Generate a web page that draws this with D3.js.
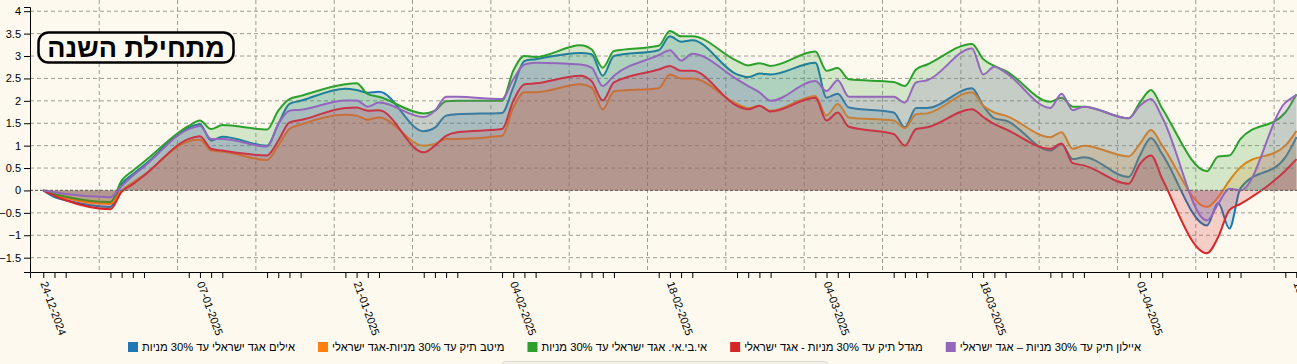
<!DOCTYPE html>
<html>
<head>
<meta charset="utf-8">
<script src="https://cdn.jsdelivr.net/npm/d3@7"></script>
<style>
  html, body { margin: 0; padding: 0; background: #fdf9ef; }
  svg { display: block; }
</style>
</head>
<body>
<svg id="chart" width="1297" height="364"></svg>
<script>
// ---------- DATA ----------
const dates = [
  "2024-12-24","2024-12-25","2024-12-26",
  "2024-12-30","2024-12-31","2025-01-01","2025-01-02",
  "2025-01-06","2025-01-07","2025-01-08","2025-01-09",
  "2025-01-13","2025-01-14","2025-01-15","2025-01-16",
  "2025-01-20","2025-01-21","2025-01-22","2025-01-23",
  "2025-01-27","2025-01-28","2025-01-29","2025-01-30",
  "2025-02-03","2025-02-04","2025-02-05","2025-02-06",
  "2025-02-10","2025-02-11","2025-02-12","2025-02-13",
  "2025-02-17","2025-02-18","2025-02-19","2025-02-20",
  "2025-02-24","2025-02-25","2025-02-26","2025-02-27",
  "2025-03-03","2025-03-04","2025-03-05","2025-03-06",
  "2025-03-10","2025-03-11","2025-03-12","2025-03-13",
  "2025-03-17","2025-03-18","2025-03-19","2025-03-20",
  "2025-03-24","2025-03-25","2025-03-26","2025-03-27",
  "2025-03-31","2025-04-01","2025-04-02","2025-04-03",
  "2025-04-07","2025-04-08","2025-04-09","2025-04-10",
  "2025-04-14","2025-04-15"
];

const seriesNames = [
  "אילים אגד ישראלי עד 30% מניות",
  "מיטב תיק עד 30% מניות-אגד ישראלי",
  "אי.בי.אי. אגד ישראלי עד 30% מניות",
  "מגדל תיק עד 30% מניות - אגד ישראלי",
  "איילון תיק עד 30% מניות – אגד ישראלי"
];

const seriesColors = ["#1f77b4", "#ff7f0e", "#2ca02c", "#d62728", "#9467bd"];

const elimValues = [
  0, -0.15, -0.22, -0.37, 0.14, 0.36, 0.56, 1.40, 1.48, 1.11, 1.20,
  1.00, 1.48, 1.93, 2.00, 2.27, 2.24, 2.18, 2.20, 1.32, 1.40, 1.67, 1.70,
  1.73, 2.30, 2.89, 2.93, 3.07, 3.04, 2.56, 3.00, 3.13, 3.44, 3.32, 3.35,
  2.59, 2.53, 2.61, 2.59, 2.85, 2.07, 2.16, 1.85, 1.74, 1.41, 1.84, 1.84,
  2.28, 1.89, 1.61, 1.56, 0.89, 1.04, 0.70, 0.74, 0.30, 0.78, 1.17, 0.81,
  -0.78, -0.28, -0.85, 0.05, 0.74, 1.19
];

const meitavValues = [
  0, -0.10, -0.17, -0.30, 0.00, 0.18, 0.35, 1.10, 1.13, 0.89, 0.87,
  0.68, 1.00, 1.37, 1.47, 1.69, 1.67, 1.58, 1.63, 1.00, 1.04, 1.15, 1.15,
  1.22, 1.85, 2.19, 2.19, 2.37, 2.30, 1.81, 2.21, 2.28, 2.59, 2.50, 2.50,
  1.93, 1.84, 1.89, 1.78, 2.11, 1.67, 1.93, 1.63, 1.56, 1.39, 1.70, 1.72,
  2.19, 1.89, 1.74, 1.67, 1.19, 1.30, 0.93, 1.00, 0.76, 1.04, 1.35, 1.00,
  -0.37, -0.15, 0.22, 0.52, 1.00, 1.33
];

const ibiValues = [
  0, -0.08, -0.14, -0.26, 0.22, 0.44, 0.64, 1.44, 1.56, 1.37, 1.46,
  1.36, 1.78, 2.04, 2.11, 2.37, 2.39, 2.15, 2.09, 1.72, 1.78, 1.99, 2.00,
  2.00, 2.67, 3.00, 2.98, 3.24, 3.15, 2.74, 3.11, 3.23, 3.56, 3.44, 3.44,
  2.89, 2.79, 2.84, 2.78, 3.10, 2.67, 2.73, 2.48, 2.42, 2.33, 2.70, 2.81,
  3.27, 2.93, 2.78, 2.67, 1.98, 2.07, 1.87, 1.87, 1.61, 1.96, 2.24, 1.83,
  0.43, 0.76, 0.78, 1.15, 1.74, 2.15
];

const migdalValues = [
  0, -0.12, -0.22, -0.42, -0.03, 0.14, 0.33, 1.15, 1.21, 0.93, 0.89,
  0.78, 1.11, 1.52, 1.57, 1.84, 1.85, 1.78, 1.79, 0.85, 1.00, 1.22, 1.30,
  1.37, 2.00, 2.37, 2.39, 2.56, 2.44, 2.01, 2.41, 2.70, 2.78, 2.67, 2.67,
  1.89, 1.81, 1.89, 1.76, 2.07, 1.56, 1.74, 1.42, 1.26, 1.00, 1.37, 1.41,
  1.81, 1.64, 1.48, 1.37, 0.93, 1.05, 0.61, 0.56, 0.15, 0.59, 0.78, 0.26,
  -1.40, -1.04, -0.44, -0.30, 0.44, 0.70
];

const ayalonValues = [
  0, -0.04, -0.08, -0.15, 0.10, 0.33, 0.53, 1.37, 1.44, 1.15, 1.15,
  0.98, 1.48, 1.78, 1.80, 2.01, 2.01, 1.87, 1.96, 1.64, 1.78, 2.09, 2.09,
  2.04, 2.48, 2.81, 2.85, 2.81, 2.74, 2.33, 2.56, 3.02, 3.13, 2.90, 3.05,
  2.48, 2.33, 2.19, 2.00, 2.44, 2.22, 2.46, 2.09, 2.09, 1.96, 2.41, 2.46,
  3.17, 2.59, 2.76, 2.63, 1.84, 2.16, 1.79, 1.87, 1.61, 1.89, 2.04, 1.63,
  -0.67, -0.30, 0.04, 0.00, 1.96, 2.13
];

const yTickValues = [4, 3.5, 3, 2.5, 2, 1.5, 1, 0.5, 0, -0.5, -1, -1.5];
const xTickLabels = ["24-12-2024","07-01-2025","21-01-2025","04-02-2025","18-02-2025",
                     "04-03-2025","18-03-2025","01-04-2025","15-04-2025"];
const titleText = "מתחילת השנה";

// ---------- CHART ----------
const W = 1297, H = 364;
const margin = { left: 30, top: 7, bottom: 92 };
const plotBottom = H - margin.bottom; // 272
const parse = d3.timeParse("%Y-%m-%d");
const fmt = d3.timeFormat("%d-%m-%Y");
const dateObjs = dates.map(parse);
const allSeries = [elimValues, meitavValues, ibiValues, migdalValues, ayalonValues];
const bg = "#fdf9ef";
const fontFamily = "'Liberation Sans', Arial, sans-serif";

const svg = d3.select("#chart");
svg.append("rect").attr("width", W).attr("height", H).attr("fill", bg);

const first = dateObjs[0], last = dateObjs[dateObjs.length - 1];
const x = d3.scaleTime()
  .domain([new Date(first.getTime() - 28.5 * 3600e3), last])
  .range([margin.left, 1296.5]);

const allVals = allSeries.flat();
const y = d3.scaleLinear()
  .domain([d3.min(allVals) * 1.3, d3.max(allVals) * 1.15])
  .range([plotBottom, margin.top]);

// grid
const grid = svg.append("g").attr("class", "grid");
grid.selectAll("line.h").data(yTickValues.filter(v => v !== 0)).join("line")
  .attr("x1", margin.left).attr("x2", W)
  .attr("y1", d => y(d)).attr("y2", d => y(d))
  .attr("stroke", "#a09c94").attr("stroke-width", 1)
  .attr("stroke-dasharray", "4,3");
const weekTicks = d3.timeWeek.range(x.domain()[0], d3.timeDay.offset(last, 1));
grid.selectAll("line.v").data(weekTicks).join("line")
  .attr("x1", d => x(d)).attr("x2", d => x(d))
  .attr("y1", 0).attr("y2", plotBottom)
  .attr("stroke", "#a09c94").attr("stroke-width", 1)
  .attr("stroke-dasharray", "4,3");

// series
const area = d3.area()
  .x((d, i) => x(dateObjs[i]))
  .y0(y(0))
  .y1(d => y(d))
  .curve(d3.curveMonotoneX);
const line = d3.line()
  .x((d, i) => x(dateObjs[i]))
  .y(d => y(d))
  .curve(d3.curveMonotoneX);

const seriesG = svg.append("g");
allSeries.forEach((vals, k) => {
  const g = seriesG.append("g");
  g.append("path").attr("d", area(vals))
    .attr("fill", seriesColors[k]).attr("fill-opacity", 0.2);
  g.append("path").attr("d", line(vals))
    .attr("fill", "none").attr("stroke", seriesColors[k]).attr("stroke-width", 2);
});

// zero line
svg.append("line")
  .attr("x1", margin.left).attr("x2", W)
  .attr("y1", y(0)).attr("y2", y(0))
  .attr("stroke", "#6f6a64").attr("stroke-width", 1.2)
  .attr("stroke-dasharray", "3,2");

// axes
const yAxis = d3.axisLeft(y).tickValues(yTickValues).tickFormat(d3.format("~g"));
const yg = svg.append("g").attr("transform", `translate(${margin.left},0)`).call(yAxis);
yg.selectAll("text").style("font-family", fontFamily).style("font-size", "11px").attr("fill", "#000");
yg.selectAll("path, line").attr("stroke", "#000");

const xAxis = d3.axisBottom(x).tickValues(dateObjs)
  .tickFormat(d => xTickLabels.includes(fmt(d)) ? fmt(d) : "");
const xg = svg.append("g").attr("transform", `translate(0,${plotBottom})`).call(xAxis);
xg.selectAll("path, line").attr("stroke", "#000");
xg.selectAll("text")
  .style("font-family", fontFamily).style("font-size", "11px")
  .attr("fill", "#000")
  .attr("y", 0).attr("x", 0).attr("dy", "0.35em")
  .attr("transform", "translate(0,10) rotate(70)")
  .style("text-anchor", "start");

// title box
const tg = svg.append("g");
tg.append("rect").attr("x", 38.5).attr("y", 32.5).attr("width", 195).attr("height", 30)
  .attr("rx", 10).attr("ry", 10)
  .attr("fill", bg).attr("stroke", "#000").attr("stroke-width", 2.5);
tg.append("text").attr("x", 136).attr("y", 48).attr("text-anchor", "middle")
  .attr("dominant-baseline", "central")
  .style("font-family", fontFamily)
  .style("font-weight", "bold").style("font-size", "27px")
  .text(titleText);

// legend
const lg = svg.append("g");
let lx = 128;
seriesNames.forEach((name, k) => {
  lg.append("rect").attr("x", lx).attr("y", 342).attr("width", 10).attr("height", 10)
    .attr("fill", seriesColors[k]);
  const t = lg.append("text").attr("x", lx + 14).attr("y", 351)
    .style("font-family", fontFamily).style("font-size", "11.2px")
    .attr("fill", "#000").text(name);
  const w = t.node().getComputedTextLength();
  lx += 14 + w + 23;
});

// faint box at bottom
svg.append("rect").attr("x", 502.5).attr("y", 361.5).attr("width", 325).attr("height", 10)
  .attr("rx", 3).attr("fill", "#f4f1ea").attr("stroke", "#dcd8d0");
</script>
</body>
</html>
